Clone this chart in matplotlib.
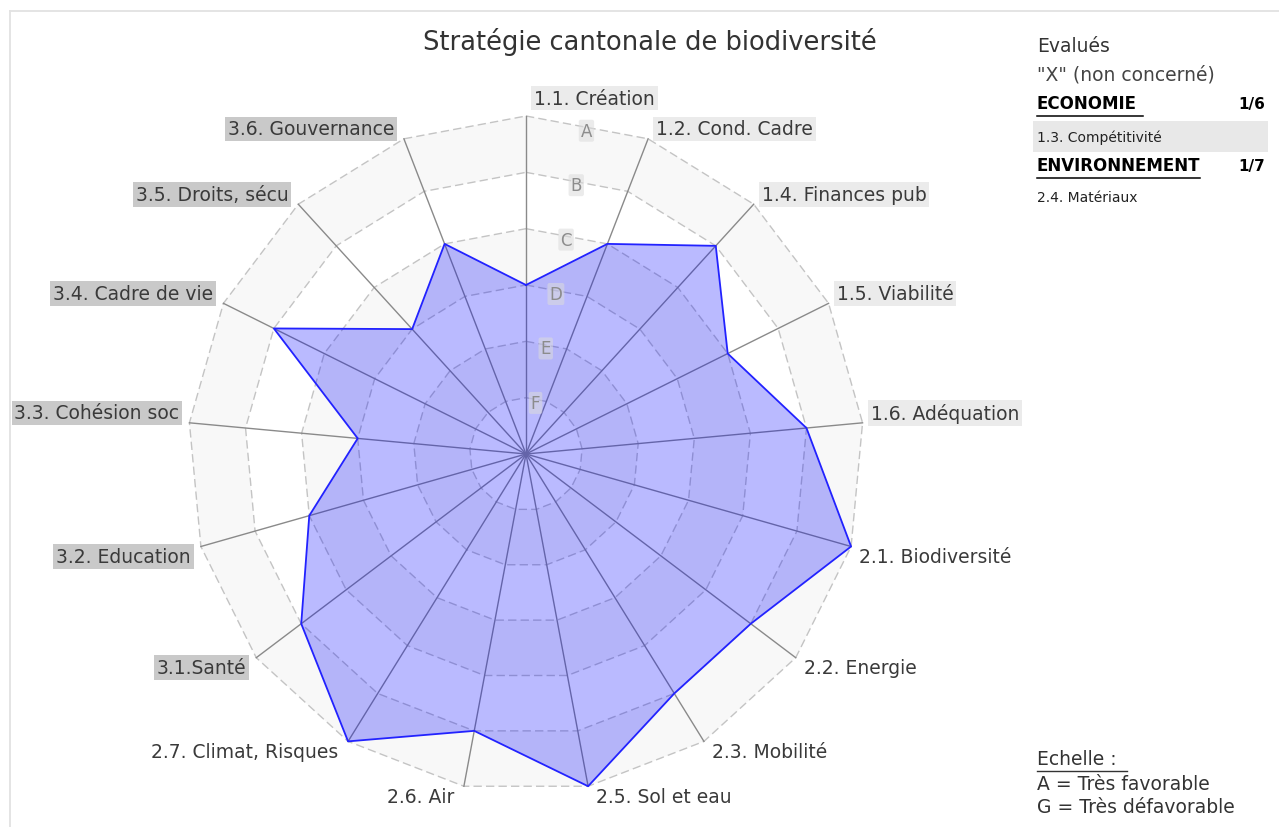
import numpy as np
import matplotlib
matplotlib.use("Agg")
import matplotlib.pyplot as plt
from matplotlib.lines import Line2D
from matplotlib.patches import Polygon, Rectangle

plt.rcParams['font.family'] = ['DejaVu Sans']

# ---------------- data ----------------
categories = ["1.1. Création", "1.2. Cond. Cadre", "1.4. Finances pub", "1.5. Viabilité",
              "1.6. Adéquation", "2.1. Biodiversité", "2.2. Energie", "2.3. Mobilité",
              "2.5. Sol et eau", "2.6. Air", "2.7. Climat, Risques", "3.1.Santé",
              "3.2. Education", "3.3. Cohésion soc", "3.4. Cadre de vie",
              "3.5. Droits, sécu", "3.6. Gouvernance"]
grades = ["D", "C", "B", "C", "B", "A", "B", "B", "A", "B", "A", "B", "C", "D", "B", "D", "C"]
scale_letters = ["G", "F", "E", "D", "C", "B", "A"]   # position = level (G = centre)
title = "Stratégie cantonale de biodiversité"
legend_header = ["Evalués", '"X" (non concerné)']
section_names = ["ECONOMIE", "ENVIRONNEMENT"]
section_counts = ["1/6", "1/7"]
section_items = ["1.3. Compétitivité", "2.4. Matériaux"]
scale_note = ["Echelle :", "A = Très favorable", "G = Très défavorable"]

# ---------------- geometry ----------------
W, H, DPI = 1279, 828, 100
fig = plt.figure(figsize=(W / DPI, H / DPI), dpi=DPI)
fig.patch.set_facecolor("white")

cx, cy = 526, 455          # centre in pixels (from top)
nlev = len(scale_letters) - 1
u = 338 / nlev             # pixels per level

ax = fig.add_axes([0, 0, 1, 1])
ax.set_xlim(-cx / u, (W - cx) / u)
ax.set_ylim(-(H - cy) / u, cy / u)
ax.axis("off")

n = len(categories)
theta = 2 * np.pi * np.arange(n) / n
sx, sy = np.sin(theta), np.cos(theta)
values = np.array([scale_letters.index(g) for g in grades], dtype=float)

# alternating bands
for k in range(nlev, 0, -1):
    col = "#f8f8f8" if (nlev - k) % 2 == 0 else "white"
    ax.add_patch(Polygon(np.column_stack([k * sx, k * sy]), closed=True,
                         facecolor=col, edgecolor="none", zorder=1))
# dashed rings
for k in range(1, nlev + 1):
    xs = np.append(k * sx, k * sx[0])
    ys = np.append(k * sy, k * sy[0])
    ax.plot(xs, ys, color="#c4c4c4", lw=1.0, ls=(0, (6, 3)), zorder=2)
# spokes
for i in range(n):
    ax.plot([0, nlev * sx[i]], [0, nlev * sy[i]], color="#8a8a8a", lw=1.0, zorder=3)

# data polygon
px_ = values * sx
py_ = values * sy
ax.add_patch(Polygon(np.column_stack([px_, py_]), closed=True,
                     facecolor=(0.0, 0.0, 1.0, 0.27), edgecolor="none", zorder=4))
ax.plot(np.append(px_, px_[0]), np.append(py_, py_[0]), color="#2222ff", lw=1.3, zorder=5)

# scale letters along bisector between first two axes
half = np.pi / n
for k in range(1, nlev + 1):
    r = k * np.cos(half) - 0.06
    ax.text(r * np.sin(half), r * np.cos(half), scale_letters[k], ha="center", va="center",
            fontsize=12, color="#8c8c8c", zorder=6,
            bbox=dict(boxstyle="round,pad=0.12", facecolor="#dcdcdc", alpha=0.55,
                      edgecolor="none"))

# axis labels
for i, lab in enumerate(categories):
    xe, ye = nlev * sx[i], nlev * sy[i]
    if sx[i] > 1e-6 or i == 0:
        ha, dx = "left", 8
    else:
        ha, dx = "right", -10
    if i == 0:
        dy = 18
    elif sy[i] > 0:
        dy = 10
    else:
        dy = -10
    grp = lab[0]
    if grp == "1":
        bb = dict(boxstyle="square,pad=0.15", facecolor="#ebebeb", edgecolor="none")
    elif grp == "3":
        bb = dict(boxstyle="square,pad=0.15", facecolor="#c9c9c9", edgecolor="none")
    else:
        bb = None
    ax.annotate(lab, xy=(xe, ye), xytext=(dx, dy), textcoords="offset pixels",
                ha=ha, va="center", fontsize=13.5, color="#3a3a3a", bbox=bb, zorder=7)

# ---------------- figure-level texts ----------------
def fx(x):
    return x / W

def fy(y):
    return 1 - y / H

fig.text(fx(650), fy(42), title, ha="center", va="center", fontsize=18.5, color="#333333")

# frame
fig.add_artist(Line2D([fx(10), 1], [fy(12), fy(12)], color="#e2e2e2", lw=1.3))
fig.add_artist(Line2D([fx(10), fx(10)], [fy(12), 0], color="#e2e2e2", lw=1.3))

# legend block
fig.text(fx(1037), fy(46), legend_header[0], ha="left", va="center", fontsize=13.5, color="#333333")
fig.text(fx(1037), fy(75), legend_header[1], ha="left", va="center", fontsize=13.5, color="#444444")

sec_y = [104, 166]
item_y = [138, 198]
ul_end = [1143, 1200]
for j in range(len(section_names)):
    fig.text(fx(1037), fy(sec_y[j]), section_names[j], ha="left", va="center",
             fontsize=12, fontweight="bold", color="black")
    fig.text(fx(1265), fy(sec_y[j]), section_counts[j], ha="right", va="center",
             fontsize=11, fontweight="bold", color="black")
    fig.add_artist(Line2D([fx(1037), fx(ul_end[j])], [fy(sec_y[j] + 13)] * 2,
                          color="black", lw=1.1))
    if j == 0:
        fig.add_artist(Rectangle((fx(1033), fy(153)), fx(1268) - fx(1033), fy(122) - fy(153),
                                 facecolor="#e8e8e8", edgecolor="none", zorder=0))
    fig.text(fx(1037), fy(item_y[j]), section_items[j], ha="left", va="center",
             fontsize=10, color="#222222", zorder=2)

# scale note
note_y = [760, 785, 808]
for j, t in enumerate(scale_note):
    fig.text(fx(1037), fy(note_y[j]), t, ha="left", va="center", fontsize=13.5, color="#333333")
fig.add_artist(Line2D([fx(1037), fx(1127)], [fy(772)] * 2, color="#333333", lw=1.0))

fig.savefig("out.png", dpi=DPI, facecolor="white")
